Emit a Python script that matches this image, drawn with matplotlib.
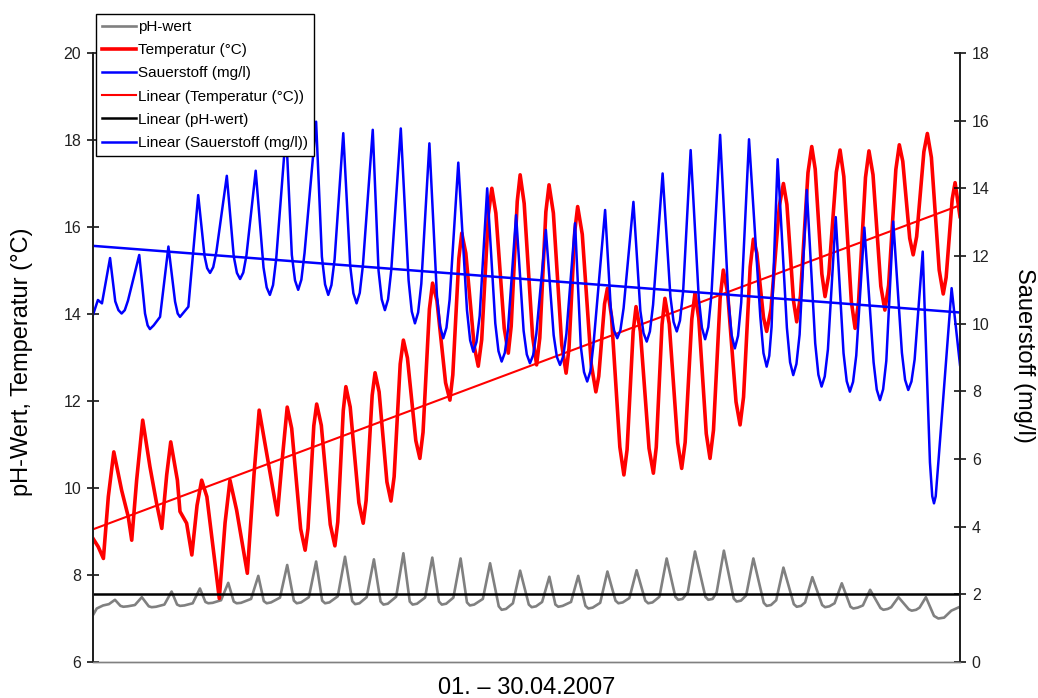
import matplotlib
matplotlib.use("Agg")
import matplotlib.pyplot as plt

plt.rcParams['font.family'] = ['Liberation Sans', 'DejaVu Sans']

# readings as (day, value), day 0 = 01.04., day 30 = 30.04.
ph_pts = [(0.0, 7.08), (0.13, 7.23), (0.35, 7.3), (0.55, 7.33), (0.76, 7.43), (0.95, 7.29), (1.05, 7.27),
          (1.2, 7.28), (1.45, 7.31), (1.69, 7.49), (1.93, 7.28), (2.03, 7.26), (2.18, 7.27), (2.47, 7.32),
          (2.72, 7.62), (2.91, 7.32), (3.01, 7.29), (3.16, 7.30), (3.45, 7.35), (3.70, 7.69), (3.89, 7.38),
          (3.99, 7.35), (4.14, 7.36), (4.43, 7.42), (4.68, 7.82), (4.87, 7.39), (4.97, 7.35), (5.12, 7.36),
          (5.47, 7.45), (5.72, 7.98), (5.91, 7.40), (6.01, 7.35), (6.16, 7.37), (6.47, 7.48), (6.72, 8.23),
          (6.95, 7.41), (7.05, 7.35), (7.2, 7.37), (7.47, 7.49), (7.72, 8.31), (7.93, 7.41), (8.03, 7.35),
          (8.18, 7.37), (8.47, 7.51), (8.72, 8.42), (8.97, 7.40), (9.07, 7.33), (9.22, 7.35), (9.47, 7.49),
          (9.72, 8.36), (9.95, 7.39), (10.05, 7.32), (10.2, 7.34), (10.49, 7.5), (10.74, 8.5), (10.96, 7.39),
          (11.06, 7.32), (11.21, 7.34), (11.49, 7.48), (11.74, 8.40), (11.97, 7.39), (12.07, 7.32),
          (12.22, 7.34), (12.47, 7.48), (12.72, 8.38), (12.94, 7.37), (13.04, 7.3), (13.19, 7.32),
          (13.49, 7.45), (13.74, 8.27), (14.04, 7.28), (14.14, 7.2), (14.29, 7.22), (14.53, 7.35),
          (14.78, 8.1), (15.08, 7.32), (15.18, 7.26), (15.33, 7.28), (15.54, 7.38), (15.79, 7.96),
          (16.0, 7.32), (16.10, 7.27), (16.25, 7.29), (16.54, 7.38), (16.79, 7.98), (17.04, 7.29),
          (17.14, 7.23), (17.29, 7.25), (17.55, 7.36), (17.80, 8.08), (18.08, 7.41), (18.18, 7.35),
          (18.33, 7.37), (18.56, 7.47), (18.81, 8.11), (19.11, 7.41), (19.21, 7.35), (19.36, 7.37),
          (19.6, 7.5), (19.85, 8.38), (20.15, 7.5), (20.25, 7.43), (20.4, 7.45), (20.58, 7.6), (20.83, 8.54),
          (21.19, 7.5), (21.29, 7.43), (21.44, 7.45), (21.58, 7.6), (21.83, 8.56), (22.17, 7.46),
          (22.27, 7.39), (22.42, 7.41), (22.6, 7.53), (22.85, 8.38), (23.21, 7.36), (23.31, 7.29),
          (23.46, 7.31), (23.64, 7.42), (23.89, 8.17), (24.25, 7.33), (24.35, 7.27), (24.5, 7.29),
          (24.64, 7.37), (24.89, 7.95), (25.23, 7.31), (25.33, 7.26), (25.48, 7.28), (25.66, 7.35),
          (25.91, 7.81), (26.21, 7.27), (26.31, 7.23), (26.46, 7.25), (26.64, 7.3), (26.89, 7.66),
          (27.25, 7.24), (27.35, 7.2), (27.5, 7.22), (27.62, 7.26), (27.87, 7.49), (28.23, 7.21),
          (28.33, 7.18), (28.48, 7.2), (28.6, 7.25), (28.82, 7.49), (29.1, 7.06), (29.25, 7.0),
          (29.45, 7.02), (29.7, 7.18), (30.0, 7.27)]

temp_pts = [(0.0, 8.84), (0.18, 8.65), (0.36, 8.38), (0.53, 9.8), (0.72, 10.83), (0.99, 9.95), (1.22, 9.34),
            (1.34, 8.8), (1.51, 10.18), (1.72, 11.56), (1.97, 10.49), (2.20, 9.65), (2.38, 9.07),
            (2.55, 10.3), (2.69, 11.06), (2.92, 10.18), (3.01, 9.46), (3.24, 9.19), (3.42, 8.46),
            (3.60, 9.6), (3.76, 10.18), (3.94, 9.8), (4.37, 7.46), (4.57, 9.2), (4.74, 10.18), (4.97, 9.49),
            (5.34, 8.04), (5.57, 10.3), (5.75, 11.79), (6.07, 10.57), (6.38, 9.38), (6.54, 10.6),
            (6.72, 11.86), (6.875, 11.37), (7.185, 9.06), (7.34, 8.57), (7.44, 9.07), (7.64, 11.43),
            (7.74, 11.93), (7.90, 11.44), (8.21, 9.16), (8.37, 8.67), (8.47, 9.22), (8.66, 11.78),
            (8.75, 12.33), (8.90, 11.86), (9.20, 9.66), (9.35, 9.19), (9.45, 9.71), (9.66, 12.13),
            (9.76, 12.65), (9.90, 12.21), (10.17, 10.14), (10.31, 9.7), (10.42, 10.26), (10.63, 12.85),
            (10.74, 13.4), (10.88, 12.99), (11.17, 11.09), (11.31, 10.68), (11.42, 11.28), (11.64, 14.11),
            (11.75, 14.71), (11.90, 14.31), (12.20, 12.42), (12.35, 12.02), (12.45, 12.60), (12.66, 15.28),
            (12.76, 15.86), (12.90, 15.40), (13.19, 13.26), (13.33, 12.8), (13.45, 13.41), (13.68, 16.28),
            (13.80, 16.89), (13.94, 16.32), (14.23, 13.67), (14.37, 13.1), (14.47, 13.72), (14.68, 16.59),
            (14.78, 17.2), (14.92, 16.54), (15.21, 13.49), (15.35, 12.83), (15.46, 13.45), (15.67, 16.35),
            (15.78, 16.97), (15.93, 16.32), (16.22, 13.29), (16.37, 12.64), (16.47, 13.21), (16.67, 15.90),
            (16.77, 16.47), (16.93, 15.83), (17.24, 12.85), (17.4, 12.21), (17.50, 12.57), (17.70, 14.23),
            (17.8, 14.59), (17.94, 13.95), (18.23, 10.94), (18.37, 10.3), (18.48, 10.88), (18.69, 13.59),
            (18.79, 14.17), (18.94, 13.60), (19.24, 10.91), (19.39, 10.34), (19.49, 10.94), (19.69, 13.76),
            (19.79, 14.36), (19.94, 13.77), (20.23, 11.04), (20.37, 10.45), (20.49, 11.05), (20.72, 13.88),
            (20.83, 14.48), (20.96, 13.91), (21.22, 11.25), (21.35, 10.68), (21.47, 11.33), (21.70, 14.36),
            (21.81, 15.01), (21.96, 14.48), (22.25, 11.98), (22.39, 11.45), (22.51, 12.09), (22.74, 15.08),
            (22.85, 15.72), (22.97, 15.40), (23.20, 13.92), (23.31, 13.6), (23.46, 14.11), (23.75, 16.49),
            (23.89, 17.0), (24.01, 16.52), (24.24, 14.30), (24.35, 13.82), (24.48, 14.42), (24.74, 17.25),
            (24.87, 17.85), (24.99, 17.33), (25.22, 14.92), (25.33, 14.4), (25.46, 14.91), (25.72, 17.26),
            (25.85, 17.77), (25.98, 17.16), (26.24, 14.29), (26.37, 13.67), (26.49, 14.28), (26.73, 17.14),
            (26.85, 17.75), (26.99, 17.20), (27.26, 14.64), (27.40, 14.09), (27.53, 14.66), (27.78, 17.32),
            (27.90, 17.89), (28.02, 17.51), (28.26, 15.74), (28.38, 15.36), (28.50, 15.78), (28.75, 17.73),
            (28.87, 18.15), (29.01, 17.60), (29.28, 15.01), (29.42, 14.46), (29.52, 14.84), (29.73, 16.64),
            (29.83, 17.02), (30.0, 16.24)]

o2_pts = [(0.0, 10.26), (0.17, 10.7), (0.31, 10.6), (0.59, 11.94), (0.77, 10.66), (0.88, 10.40), (0.99, 10.3),
          (1.10, 10.40), (1.21, 10.68), (1.60, 12.03), (1.80, 10.3), (1.89, 9.95), (1.97, 9.84), (2.10, 9.95),
          (2.32, 10.2), (2.61, 12.28), (2.84, 10.65), (2.93, 10.3), (3.01, 10.2), (3.30, 10.5), (3.64, 13.8),
          (3.86, 12.0), (3.95, 11.64), (4.05, 11.5), (4.16, 11.67), (4.27, 12.13), (4.63, 14.37),
          (4.87, 11.99), (4.98, 11.50), (5.09, 11.32), (5.20, 11.51), (5.31, 12.02), (5.63, 14.52),
          (5.90, 11.66), (6.01, 11.07), (6.12, 10.85), (6.23, 11.14), (6.34, 11.92), (6.68, 15.7),
          (6.88, 12.03), (6.99, 11.28), (7.10, 11.0), (7.21, 11.30), (7.32, 12.09), (7.72, 15.97),
          (7.92, 11.98), (8.03, 11.16), (8.14, 10.85), (8.25, 11.14), (8.36, 11.90), (8.66, 15.63),
          (8.90, 11.71), (9.01, 10.90), (9.12, 10.6), (9.23, 10.91), (9.34, 11.73), (9.68, 15.73),
          (9.88, 11.57), (9.99, 10.72), (10.10, 10.4), (10.21, 10.72), (10.32, 11.58), (10.65, 15.77),
          (10.92, 11.28), (11.03, 10.36), (11.14, 10.01), (11.25, 10.33), (11.36, 11.18), (11.64, 15.33),
          (11.90, 10.84), (12.01, 9.92), (12.12, 9.57), (12.23, 9.88), (12.34, 10.71), (12.64, 14.76),
          (12.94, 10.40), (13.05, 9.51), (13.16, 9.17), (13.27, 9.46), (13.38, 10.23), (13.64, 14.0),
          (13.92, 10.01), (14.03, 9.19), (14.14, 8.88), (14.25, 9.14), (14.36, 9.83), (14.64, 13.21),
          (14.90, 9.79), (15.01, 9.09), (15.12, 8.83), (15.23, 9.07), (15.34, 9.70), (15.67, 12.77),
          (15.94, 9.66), (16.05, 9.02), (16.16, 8.78), (16.27, 9.03), (16.38, 9.70), (16.68, 12.97),
          (16.88, 9.32), (16.99, 8.57), (17.10, 8.29), (17.21, 8.59), (17.32, 9.41), (17.72, 13.36),
          (17.92, 10.40), (18.03, 9.80), (18.14, 9.57), (18.25, 9.81), (18.36, 10.46), (18.70, 13.6),
          (18.94, 10.38), (19.05, 9.72), (19.16, 9.47), (19.27, 9.77), (19.38, 10.56), (19.71, 14.44),
          (19.98, 10.80), (20.09, 10.05), (20.20, 9.77), (20.31, 10.09), (20.42, 10.95), (20.68, 15.13),
          (20.96, 10.77), (21.07, 9.88), (21.18, 9.54), (21.29, 9.90), (21.40, 10.87), (21.70, 15.58),
          (21.99, 10.66), (22.10, 9.65), (22.21, 9.27), (22.32, 9.64), (22.43, 10.63), (22.70, 15.45),
          (23.09, 10.21), (23.20, 9.13), (23.31, 8.73), (23.40, 9.05), (23.48, 9.9), (23.69, 14.86),
          (24.01, 9.88), (24.12, 8.86), (24.23, 8.48), (24.34, 8.81), (24.45, 9.68), (24.70, 13.95),
          (24.99, 9.42), (25.10, 8.49), (25.21, 8.14), (25.32, 8.44), (25.43, 9.24), (25.70, 13.15),
          (25.97, 9.13), (26.08, 8.30), (26.19, 7.99), (26.30, 8.28), (26.41, 9.06), (26.69, 12.84),
          (27.01, 8.86), (27.12, 8.05), (27.23, 7.74), (27.34, 8.06), (27.45, 8.90), (27.69, 13.02),
          (27.99, 9.14), (28.10, 8.34), (28.21, 8.04), (28.32, 8.29), (28.43, 8.94), (28.71, 12.13),
          (28.96, 5.9), (29.04, 4.9), (29.10, 4.69), (29.16, 4.9), (29.26, 6.0), (29.71, 11.05), (30.0, 8.78)]

# linear trend lines (start / end of month)
trend_day = [0.0, 30.0]
temp_trend = [9.05, 16.5]
ph_trend = [7.56, 7.56]
o2_trend = [12.3, 10.33]

ph_day, ph_val = zip(*ph_pts)
temp_day, temp_val = zip(*temp_pts)
o2_day, o2_val = zip(*o2_pts)

fig = plt.figure(figsize=(10.38, 6.98), dpi=100)
ax = fig.add_axes([93 / 1038, 1 - 662 / 698, (960 - 93) / 1038, (662 - 53) / 698])
ax2 = ax.twinx()

l1, = ax.plot(ph_day, ph_val, color='#808080', lw=1.9, label='pH-wert')
l2, = ax.plot(temp_day, temp_val, color='#ff0000', lw=2.6, label='Temperatur (°C)')
l4, = ax.plot(trend_day, temp_trend, color='#ff0000', lw=1.5, label='Linear (Temperatur (°C))')
l5, = ax.plot(trend_day, ph_trend, color='black', lw=1.8, label='Linear (pH-wert)')
l3, = ax2.plot(o2_day, o2_val, color='#0000ff', lw=1.8, label='Sauerstoff (mg/l)')
l6, = ax2.plot(trend_day, o2_trend, color='#0000ff', lw=1.8, label='Linear (Sauerstoff (mg/l))')

ax.set_xlim(0, 30)
ax.set_ylim(6, 20)
ax2.set_ylim(0, 18)
ax.set_yticks(range(6, 21, 2))
ax2.set_yticks(range(0, 19, 2))
ax.set_xticks([])

for a in (ax, ax2):
    a.spines['top'].set_visible(False)
    a.spines['bottom'].set_color('#808080')
    a.spines['bottom'].set_linewidth(1.0)
    a.spines['left'].set_color('#202020')
    a.spines['right'].set_color('#202020')
    a.spines['left'].set_linewidth(1.3)
    a.spines['right'].set_linewidth(1.3)
ax.tick_params(axis='y', direction='inout', length=9, width=1.1, labelsize=11.5,
               labelcolor='#222222', pad=4)
ax2.tick_params(axis='y', direction='inout', length=9, width=1.1, labelsize=11.5,
                labelcolor='#222222', pad=4)

fig.text(22 / 1038, 1 - 362 / 698, 'pH-Wert, Temperatur (°C)', rotation=90,
         ha='center', va='center', fontsize=17)
fig.text(1024 / 1038, 1 - 355 / 698, 'Sauerstoff (mg/l)', rotation=270,
         ha='center', va='center', fontsize=17)
fig.text(527 / 1038, 1 - 688 / 698, '01. \u2013 30.04.2007', ha='center', va='center',
         fontsize=17)

leg = fig.legend(handles=[l1, l2, l3, l4, l5, l6], loc='upper left',
                 bbox_to_anchor=(96 / 1038, 1 - 14 / 698), bbox_transform=fig.transFigure,
                 fontsize=11, frameon=True, fancybox=False, shadow=False,
                 borderaxespad=0, borderpad=0.4, labelspacing=0.6,
                 handlelength=2.2, handletextpad=0.12)
leg.get_frame().set_edgecolor('black')
leg.get_frame().set_linewidth(1.0)
leg.get_frame().set_alpha(1)

fig.savefig('out.png', dpi=100, facecolor='white')
